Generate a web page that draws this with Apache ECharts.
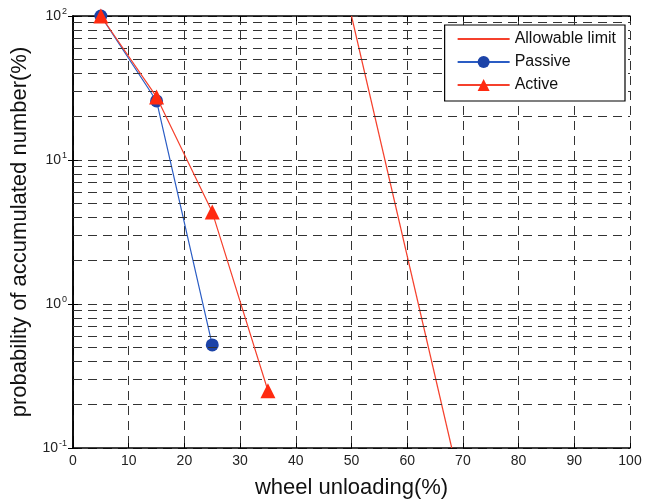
<!DOCTYPE html>
<html>
<head>
<meta charset="utf-8">
<script src="https://cdn.jsdelivr.net/npm/echarts@6/dist/echarts.min.js"></script>
<style>
  html, body { margin: 0; padding: 0; background: #fff; }
  #chart { width: 646px; height: 499px; }
</style>
</head>
<body>
<div id="chart"></div>
<script>
// data
const limitX = [50, 68];
const limitY = [100, 0.1];
const passiveX = [5, 15, 25];
const passiveY = [100, 25.7, 0.52];
const activeX = [5, 15, 25, 35];
const activeY = [100, 27.4, 4.35, 0.25];
// minor log grid lines (2..9 of each decade)
const minorLines = [0.2, 0.3, 0.4, 0.5, 0.6, 0.7, 0.8, 0.9,
                    2, 3, 4, 5, 6, 7, 8, 9,
                    20, 30, 40, 50, 60, 70, 80, 90];

const zip = (xs, ys) => xs.map((x, i) => [x, ys[i]]);
const dash = [9, 6];
const font = "'Liberation Sans', Arial, sans-serif";

const chart = echarts.init(document.getElementById("chart"));
chart.setOption({
    animation: false,
    textStyle: { fontFamily: font },
    grid: { left: 73, right: 16, top: 16, bottom: 51, outerBoundsMode: "none" },
    legend: {
        right: 21, top: 25,
        z: 20,
        orient: "vertical",
        backgroundColor: "#fff",
        borderColor: "#000",
        borderWidth: 1.2,
        borderRadius: 0,
        padding: [6, 9, 8, 12],
        itemGap: 7,
        itemWidth: 52,
        itemHeight: 15,
        textStyle: { fontSize: 16, color: "#111", fontFamily: font },
        data: [
            { name: "Allowable limit", itemStyle: { opacity: 0 } },
            "Passive",
            "Active"
        ]
    },
    xAxis: [{
        type: "value", min: 0, max: 100, interval: 10,
        name: "wheel unloading(%)", nameLocation: "middle", nameGap: 29,
        nameTextStyle: { fontSize: 22, color: "#111" },
        axisLine: { lineStyle: { color: "#000", width: 1.5 } },
        axisTick: { inside: true, length: 5, lineStyle: { color: "#000" } },
        axisLabel: { color: "#222", fontSize: 14, margin: 6 },
        splitLine: { show: true, lineStyle: { color: "#333", type: dash } }
    }, {
        type: "value", min: 0, max: 100, interval: 10, position: "top",
        axisLine: { show: true, lineStyle: { color: "#000", width: 1.5 } },
        axisTick: { inside: true, length: 5, lineStyle: { color: "#000" } },
        axisLabel: { show: false }, splitLine: { show: false }
    }],
    yAxis: [{
        type: "log", logBase: 10, min: 0.1, max: 100,
        name: "probability of accumulated number(%)", nameLocation: "middle", nameGap: 42,
        nameTextStyle: { fontSize: 22, color: "#111" },
        axisLine: { show: true, lineStyle: { color: "#000", width: 1.5 } },
        axisTick: { inside: true, length: 5, lineStyle: { color: "#000" } },
        axisLabel: {
            color: "#222", fontSize: 14, margin: 6,
            formatter: v => "10{s|" + Math.round(Math.log10(v)) + "}",
            rich: { s: { fontSize: 9, verticalAlign: "top", padding: [0, 0, 9, 1], color: "#222" } }
        },
        splitLine: { show: true, lineStyle: { color: "#333", type: dash } }
    }, {
        type: "log", logBase: 10, min: 0.1, max: 100, position: "right",
        axisLine: { show: true, lineStyle: { color: "#000", width: 1.5 } },
        axisTick: { inside: true, length: 5, lineStyle: { color: "#000" } },
        axisLabel: { show: false }, splitLine: { show: false }
    }],
    series: [{
        name: "Allowable limit", type: "line",
        data: zip(limitX, limitY),
        symbol: "none",
        lineStyle: { color: "#f5402c", width: 1.2 },
        itemStyle: { color: "#f5402c" },
        markLine: {
            silent: true, symbol: "none", label: { show: false },
            lineStyle: { color: "#333", type: dash, width: 1 },
            data: minorLines.map(v => ({ yAxis: v }))
        },
        z: 3
    }, {
        name: "Passive", type: "line",
        data: zip(passiveX, passiveY),
        symbol: "circle", symbolSize: 13,
        lineStyle: { color: "#2a5cc4", width: 1.2 },
        itemStyle: { color: "#1c43a8" },
        z: 4
    }, {
        name: "Active", type: "line",
        data: zip(activeX, activeY),
        symbol: "triangle", symbolSize: 15,
        lineStyle: { color: "#f5402c", width: 1.2 },
        itemStyle: { color: "#ff2a10" },
        z: 5
    }]
});
</script>
</body>
</html>
